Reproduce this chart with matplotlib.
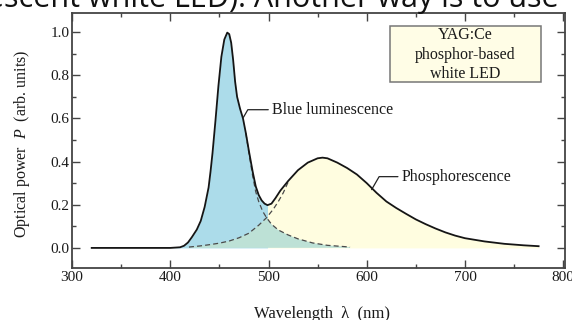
import numpy as np
import matplotlib
matplotlib.use("Agg")
import matplotlib.pyplot as plt
from matplotlib.patches import Polygon, Rectangle
from matplotlib.ticker import MultipleLocator

# ---- data ----
total_wl = [320, 400, 410, 414, 418, 422, 427, 431, 435, 439, 441, 443, 446, 449, 452, 455,
            458, 460, 462, 464, 466, 468, 471, 474, 477, 480, 484, 487, 490, 493, 496, 499,
            503, 507, 512, 520, 530, 540, 550, 555, 560, 570, 580, 590, 600, 610, 620, 630,
            640, 650, 660, 670, 680, 690, 700, 720, 740, 760, 775]
total_p = [0.0, 0.0, 0.003, 0.01, 0.025, 0.05, 0.085, 0.125, 0.19, 0.28, 0.355, 0.44, 0.59, 0.75, 0.885, 0.965,
           0.997, 0.99, 0.95, 0.87, 0.77, 0.70, 0.645, 0.60, 0.53, 0.45, 0.35, 0.285, 0.245, 0.22, 0.205, 0.198,
           0.205, 0.23, 0.265, 0.31, 0.36, 0.395, 0.415, 0.418, 0.415, 0.395, 0.37, 0.34, 0.30, 0.255, 0.215, 0.185,
           0.158, 0.132, 0.11, 0.09, 0.072, 0.057, 0.045, 0.03, 0.019, 0.012, 0.008]

blue_wl = [320, 400, 410, 414, 418, 422, 427, 431, 435, 439, 441, 443, 446, 449, 452, 455,
           458, 460, 462, 464, 466, 468, 471, 474, 477, 480, 484, 487, 490, 494, 498,
           503, 510, 520, 530, 545, 560, 583]
blue_p = [0.0, 0.0, 0.003, 0.01, 0.025, 0.05, 0.085, 0.125, 0.19, 0.28, 0.355, 0.44, 0.59, 0.75, 0.885, 0.965,
          0.997, 0.99, 0.95, 0.87, 0.77, 0.70, 0.645, 0.60, 0.53, 0.44, 0.33, 0.26, 0.215, 0.17, 0.14,
          0.11, 0.083, 0.06, 0.042, 0.023, 0.012, 0.004]

phos_wl = [419, 430, 440, 450, 460, 470, 480, 484, 490, 498, 505, 510, 515, 520]
phos_p = [0.004, 0.009, 0.015, 0.022, 0.032, 0.047, 0.068, 0.083, 0.105, 0.14, 0.18, 0.215, 0.255, 0.305]

x_ticks = [300, 400, 500, 600, 700, 800]
y_ticks = [0.0, 0.2, 0.4, 0.6, 0.8, 1.0]

# ---- style ----
serif = ["Liberation Serif", "DejaVu Serif"]
plt.rcParams["font.family"] = serif
plt.rcParams["mathtext.fontset"] = "custom"
plt.rcParams["mathtext.it"] = "Liberation Serif:italic"
plt.rcParams["mathtext.rm"] = "Liberation Serif"

BLUE = "#acdcea"
YELLOW = "#fffde0"
GREEN = "#bde1d6"
AXC = "#444444"
TXT = "#1a1a1a"

fig = plt.figure(figsize=(5.72, 3.2), dpi=100)
ax = fig.add_axes([0.126, 0.1625, 0.862, 0.797])

tw = np.array(total_wl, dtype=float)
tp = np.array(total_p)
bw = np.array(blue_wl, dtype=float)
bp = np.array(blue_p)
pw = np.array(phos_wl, dtype=float)
pp = np.array(phos_p)

# fills under the total curve
ax.fill_between(tw, 0, tp, where=tw <= 499, color=BLUE, lw=0, interpolate=True, zorder=1)
ax.fill_between(tw, 0, tp, where=tw >= 499, color=YELLOW, lw=0, interpolate=True, zorder=1)

# overlap region: under phosphor component AND under blue component
blue_poly = Polygon(np.column_stack([np.r_[bw, bw[-1], bw[0]], np.r_[bp, 0, 0]]),
                    closed=True, facecolor="none", edgecolor="none",
                    transform=ax.transData)
ax.add_patch(blue_poly)
ext_w = np.r_[pw, tw[tw > pw[-1]]]
ext_p = np.r_[pp, tp[tw > pw[-1]]]
phos_poly = Polygon(np.column_stack([np.r_[ext_w, ext_w[-1], ext_w[0]], np.r_[ext_p, 0, 0]]),
                    closed=True, facecolor=GREEN, edgecolor="none", zorder=2)
ax.add_patch(phos_poly)
phos_poly.set_clip_path(blue_poly)

# component dashed curves (only where they separate from the total)
mb = bw >= 477
ax.plot(bw[mb], bp[mb], ls=(0, (4, 2.5)), color="#4a4a4a", lw=0.9, zorder=3)
ax.plot(pw, pp, ls=(0, (4, 2.5)), color="#4a4a4a", lw=0.9, zorder=3)

# total curve
ax.plot(tw, tp, color="#151515", lw=1.3, zorder=4)

# annotations
arrow_kw = dict(arrowstyle="-", color="#222222", lw=0.9,
                connectionstyle="angle,angleA=0,angleB=60,rad=0",
                shrinkA=1, shrinkB=0)
ax.annotate("Blue luminescence", xy=(474.5, 0.605), xytext=(504, 0.64),
            fontsize=11.5, va="center", ha="left", color=TXT, arrowprops=arrow_kw)
ax.annotate("Phosphorescence", xy=(605, 0.27), xytext=(636, 0.33),
            fontsize=11.5, va="center", ha="left", color=TXT, arrowprops=arrow_kw)

ax.add_patch(Rectangle((623.5, 0.769), 154, 0.259, facecolor="#fffde6",
                       edgecolor="#777777", lw=1.1, zorder=5))
ax.text(700.5, 0.895, "YAG:Ce\nphosphor-based\nwhite LED", ha="center", va="center",
        fontsize=11.5, linespacing=1.3, color=TXT, zorder=6)

# axes
ax.set_xlim(300, 802)
ax.set_ylim(-0.093, 1.088)
ax.set_xticks(x_ticks)
ax.set_yticks(y_ticks)
ax.set_xticklabels([str(v) for v in x_ticks])
ax.set_yticklabels([f"{v:.1f}" for v in y_ticks])
ax.xaxis.set_minor_locator(MultipleLocator(50))
ax.yaxis.set_minor_locator(MultipleLocator(0.1))
ax.tick_params(which="both", direction="in", top=True, right=True, colors=AXC,
               labelcolor=TXT, labelsize=11, width=1.0)
ax.tick_params(which="major", length=6, pad=2)
ax.tick_params(which="minor", length=3)
for s in ax.spines.values():
    s.set_color(AXC)
    s.set_linewidth(1.3)

fig.text(322 / 572, 1.5 / 320, "Wavelength  λ  (nm)", ha="center", va="baseline",
         fontsize=12, color=TXT)
fig.text(22 / 572, 1 - 143.5 / 320, "Optical power  $P$  (arb. units)", ha="center",
         va="center", rotation=90, fontsize=11.5, color=TXT)

# clipped page text at the very top
page_font = ["Open Sans", "DejaVu Sans"]
fig.text(80 / 572, 1 - 7 / 320, "(blue + yellow fluorescent", ha="right", va="baseline",
         fontsize=22, family=page_font, color="#111111")
fig.text(88 / 572, 1 - 7 / 320, "white LED). Another way is to use", ha="left", va="baseline",
         fontsize=22, family=page_font, color="#111111")

fig.savefig("out.png", dpi=100)
